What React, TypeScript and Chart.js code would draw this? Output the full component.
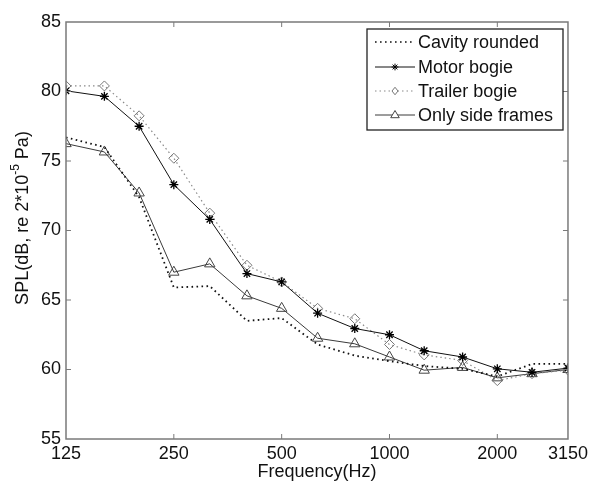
import React, { useEffect, useRef } from "react";
import { Chart, registerables } from "chart.js";

Chart.register(...registerables);

const frequencies = [125, 160, 200, 250, 315, 400, 500, 630, 800, 1000, 1250, 1600, 2000, 2500, 3150];
const xTickValues = [125, 250, 500, 1000, 2000, 3150];
const yTickValues = [55, 60, 65, 70, 75, 80, 85];

const cavityRounded = [76.7, 76.0, 72.4, 65.9, 66.0, 63.5, 63.7, 61.8, 61.0, 60.6, 60.25, 60.05, 59.5, 60.4, 60.4];
const motorBogie = [80.05, 79.65, 77.5, 73.3, 70.8, 66.9, 66.3, 64.05, 62.95, 62.5, 61.35, 60.9, 60.05, 59.8, 60.1];
const trailerBogie = [80.4, 80.4, 78.25, 75.2, 71.25, 67.5, 66.3, 64.4, 63.65, 61.8, 61.05, 60.65, 59.2, 59.7, 59.95];
const onlySideFrames = [76.25, 75.65, 72.7, 67.0, 67.6, 65.3, 64.4, 62.25, 61.85, 60.9, 59.95, 60.15, 59.4, 59.7, 60.0];

const seriesNames = ["Cavity rounded", "Motor bogie", "Trailer bogie", "Only side frames"];

const FONT = "'Liberation Sans', Arial, Helvetica, sans-serif";
const AXIS_GRAY = "#7a7a7a";

function drawMarker(ctx: CanvasRenderingContext2D, style: string, x: number, y: number, r: number) {
  ctx.beginPath();
  if (style === "star") {
    for (let i = 0; i < 4; i++) {
      const a = (i * Math.PI) / 4;
      ctx.moveTo(x - r * Math.cos(a), y - r * Math.sin(a));
      ctx.lineTo(x + r * Math.cos(a), y + r * Math.sin(a));
    }
    ctx.stroke();
  } else if (style === "rectRot") {
    ctx.moveTo(x, y - r);
    ctx.lineTo(x + r * 0.8, y);
    ctx.lineTo(x, y + r);
    ctx.lineTo(x - r * 0.8, y);
    ctx.closePath();
    ctx.fill();
    ctx.stroke();
  } else if (style === "triangle") {
    ctx.moveTo(x, y - r);
    ctx.lineTo(x + r * 0.95, y + r * 0.6);
    ctx.lineTo(x - r * 0.95, y + r * 0.6);
    ctx.closePath();
    ctx.fill();
    ctx.stroke();
  }
}

const framePlugin = {
  id: "matlabFrame",
  afterDatasetsDraw(chart: any) {
    const { ctx, chartArea } = chart;
    const { left, right, top, bottom } = chartArea;
    const xs = chart.scales.x;
    const ys = chart.scales.y;
    ctx.save();
    ctx.strokeStyle = AXIS_GRAY;
    ctx.lineWidth = 1.5;
    ctx.strokeRect(left, top, right - left, bottom - top);
    ctx.lineWidth = 1;
    const tl = 5;
    ctx.beginPath();
    for (const v of xTickValues) {
      if (v === 125 || v === 3150) continue;
      const px = xs.getPixelForValue(v);
      ctx.moveTo(px, bottom);
      ctx.lineTo(px, bottom - tl);
      ctx.moveTo(px, top);
      ctx.lineTo(px, top + tl);
    }
    for (const v of yTickValues) {
      if (v === 55 || v === 85) continue;
      const py = ys.getPixelForValue(v);
      ctx.moveTo(left, py);
      ctx.lineTo(left + tl, py);
      ctx.moveTo(right, py);
      ctx.lineTo(right - tl, py);
    }
    ctx.stroke();

    // x title
    ctx.fillStyle = "#111";
    ctx.font = `18px ${FONT}`;
    ctx.textAlign = "center";
    ctx.textBaseline = "middle";
    ctx.fillText("Frequency(Hz)", (left + right) / 2, 472);

    // y title with superscript
    ctx.save();
    ctx.translate(23, 218);
    ctx.rotate(-Math.PI / 2);
    const p1 = "SPL(dB, re 2*10";
    const sup = "-5";
    const p2 = " Pa)";
    ctx.font = `18px ${FONT}`;
    const w1 = ctx.measureText(p1).width;
    const w3 = ctx.measureText(p2).width;
    ctx.font = `12px ${FONT}`;
    const w2 = ctx.measureText(sup).width;
    const total = w1 + w2 + w3;
    const x0 = -total / 2;
    ctx.textAlign = "left";
    ctx.font = `18px ${FONT}`;
    ctx.fillText(p1, x0, 0);
    ctx.font = `12px ${FONT}`;
    ctx.fillText(sup, x0 + w1, -7);
    ctx.font = `18px ${FONT}`;
    ctx.fillText(p2, x0 + w1 + w2, 0);
    ctx.restore();

    // legend
    const bx = 367, by = 29, bw = 196, bh = 101;
    ctx.fillStyle = "#fff";
    ctx.fillRect(bx, by, bw, bh);
    ctx.strokeStyle = "#222";
    ctx.lineWidth = 1.3;
    ctx.strokeRect(bx, by, bw, bh);
    const rows = [42, 67, 91, 115];
    chart.data.datasets.forEach((ds: any, i: number) => {
      const y = rows[i];
      ctx.save();
      ctx.strokeStyle = ds.borderColor;
      ctx.lineWidth = Math.min(ds.borderWidth, 1.3);
      ctx.setLineDash(ds.borderDash || []);
      ctx.beginPath();
      ctx.moveTo(375, y);
      ctx.lineTo(415, y);
      ctx.stroke();
      ctx.setLineDash([]);
      if (ds.pointStyle && ds.pointRadius > 0) {
        ctx.strokeStyle = ds.pointBorderColor;
        ctx.fillStyle = "#fff";
        ctx.lineWidth = 1;
        drawMarker(ctx, ds.pointStyle, 395, y, ds.pointRadius * 0.75);
      }
      ctx.restore();
      ctx.fillStyle = "#111";
      ctx.font = `18px ${FONT}`;
      ctx.textAlign = "left";
      ctx.textBaseline = "middle";
      ctx.fillText(seriesNames[i], 418, y + 1);
    });
    ctx.restore();
  },
};

export default function App() {
  const canvasRef = useRef<HTMLCanvasElement | null>(null);

  useEffect(() => {
    const canvas = canvasRef.current;
    if (!canvas) return;
    const toPts = (arr: number[]) => frequencies.map((f, i) => ({ x: f, y: arr[i] }));
    const chart = new Chart(canvas, {
      type: "line",
      data: {
        datasets: [
          {
            label: seriesNames[0],
            data: toPts(cavityRounded),
            borderColor: "#111",
            borderWidth: 1.8,
            borderDash: [1.6, 3.4],
            pointRadius: 0,
            pointStyle: false as any,
            fill: false,
          },
          {
            label: seriesNames[1],
            data: toPts(motorBogie),
            borderColor: "#111",
            borderWidth: 1,
            pointStyle: "star",
            pointRadius: 4.5,
            pointBorderColor: "#000",
            pointBorderWidth: 1.3,
            pointBackgroundColor: "#000",
            fill: false,
          },
          {
            label: seriesNames[2],
            data: toPts(trailerBogie),
            borderColor: "#8a8a8a",
            borderWidth: 1.2,
            borderDash: [1.5, 3],
            pointStyle: "rectRot",
            pointRadius: 5,
            pointBorderColor: "#777",
            pointBorderWidth: 1,
            pointBackgroundColor: "rgba(255,255,255,0)",
            fill: false,
          },
          {
            label: seriesNames[3],
            data: toPts(onlySideFrames),
            borderColor: "#3a3a3a",
            borderWidth: 1,
            pointStyle: "triangle",
            pointRadius: 6,
            pointBorderColor: "#444",
            pointBorderWidth: 1,
            pointBackgroundColor: "rgba(255,255,255,0)",
            fill: false,
          },
        ],
      },
      options: {
        animation: false,
        responsive: false,
        maintainAspectRatio: false,
        layout: { padding: { top: 22, right: 22, left: 0, bottom: 0 } },
        plugins: {
          legend: { display: false },
          tooltip: { enabled: false },
          title: { display: false },
        },
        scales: {
          x: {
            type: "logarithmic",
            min: 125,
            max: 3150,
            grid: { display: false, drawTicks: false },
            border: { display: false },
            ticks: {
              autoSkip: false,
              maxRotation: 0,
              padding: 4,
              color: "#111",
              font: { family: FONT, size: 18 },
              callback: (v: any) => String(v),
            },
            afterBuildTicks: (scale: any) => {
              scale.ticks = xTickValues.map((v) => ({ value: v }));
            },
            afterFit: (scale: any) => {
              scale.height = 46;
            },
          },
          y: {
            type: "linear",
            min: 55,
            max: 85,
            grid: { display: false, drawTicks: false },
            border: { display: false },
            ticks: {
              stepSize: 5,
              padding: 5,
              color: "#111",
              font: { family: FONT, size: 18 },
            },
            afterBuildTicks: (scale: any) => {
              scale.ticks = yTickValues.map((v) => ({ value: v }));
            },
            afterFit: (scale: any) => {
              scale.width = 66;
            },
          },
        },
      },
      plugins: [framePlugin],
    } as any);
    return () => chart.destroy();
  }, []);

  return (
    <div style={{ position: "fixed", left: 0, top: 0, width: 592, height: 485, background: "#fff" }}>
      <canvas ref={canvasRef} width={592} height={485} style={{ width: 592, height: 485, display: "block" }} />
    </div>
  );
}
